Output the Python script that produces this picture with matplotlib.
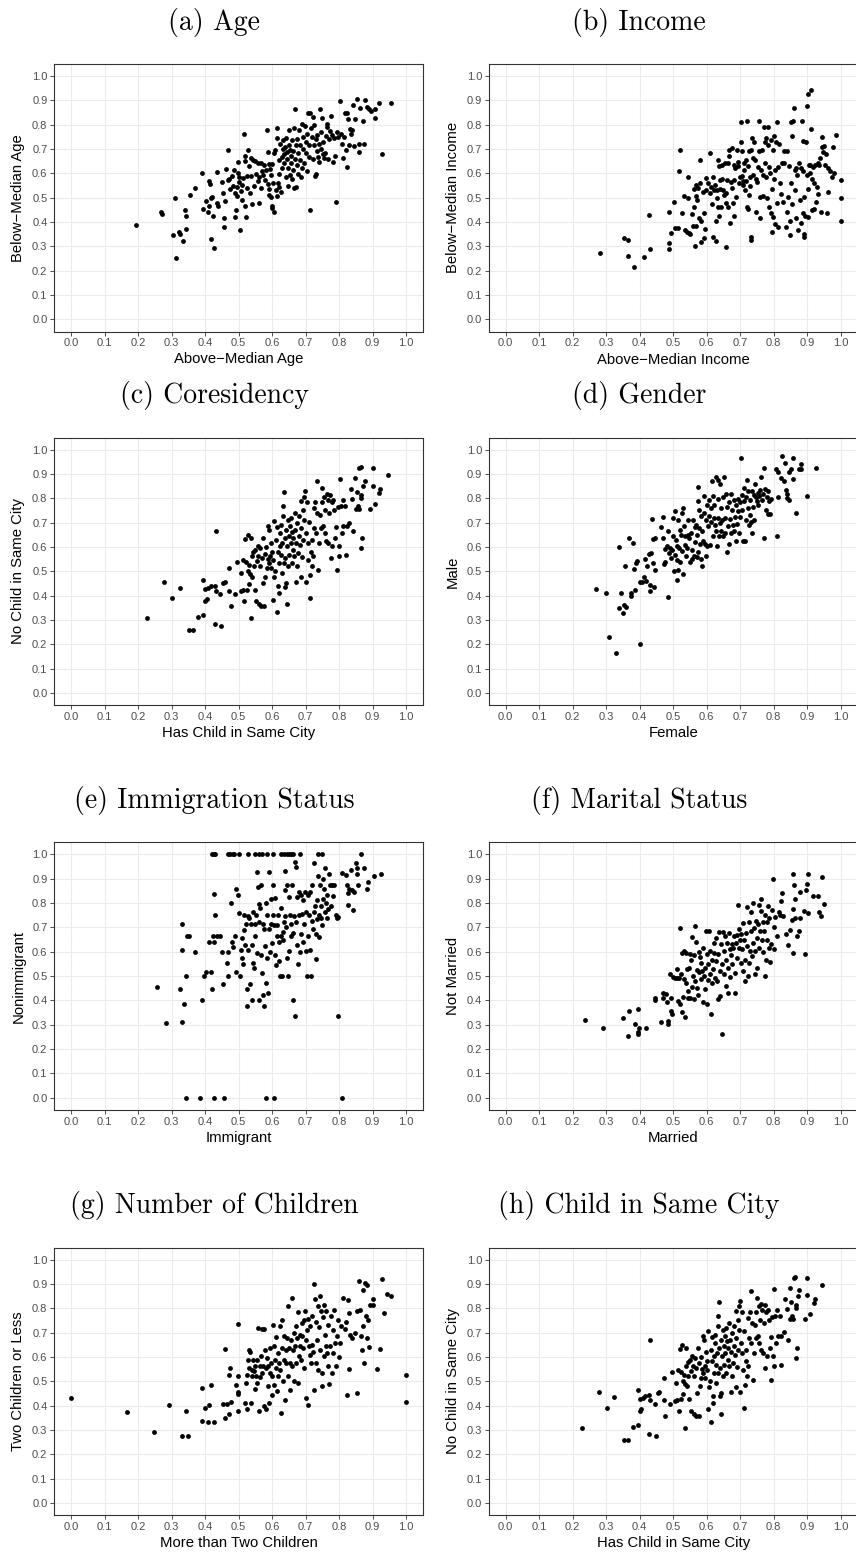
import matplotlib
matplotlib.use("Agg")
import matplotlib.pyplot as plt
import numpy as np

plt.rcParams["font.family"] = ["Liberation Sans", "DejaVu Sans"]

# ---------------- data ----------------
age_pts = [
    (0.194, 0.386), (0.27, 0.442), (0.272, 0.435), (0.305, 0.347), (0.31, 0.50), (0.314, 0.251),
    (0.322, 0.36), (0.326, 0.351), (0.333, 0.322), (0.34, 0.448), (0.343, 0.425), (0.343, 0.37),
    (0.356, 0.511), (0.371, 0.541), (0.39, 0.601), (0.393, 0.455), (0.404, 0.488), (0.409, 0.44),
    (0.411, 0.568), (0.413, 0.466), (0.415, 0.555), (0.418, 0.499), (0.419, 0.33), (0.422, 0.504),
    (0.423, 0.426), (0.428, 0.292), (0.437, 0.604), (0.435, 0.477), (0.439, 0.468), (0.452, 0.564),
    (0.456, 0.418), (0.457, 0.379), (0.46, 0.488), (0.455, 0.52), (0.464, 0.619), (0.468, 0.696),
    (0.468, 0.573), (0.472, 0.579), (0.475, 0.538), (0.48, 0.588), (0.485, 0.548), (0.487, 0.616),
    (0.49, 0.518), (0.49, 0.422), (0.493, 0.448), (0.495, 0.508), (0.499, 0.647), (0.499, 0.603),
    (0.501, 0.586), (0.497, 0.545), (0.502, 0.563), (0.505, 0.367), (0.507, 0.529), (0.51, 0.553),
    (0.51, 0.49), (0.514, 0.58), (0.515, 0.762), (0.519, 0.651), (0.519, 0.671), (0.52, 0.468),
    (0.522, 0.421), (0.524, 0.541), (0.526, 0.589), (0.528, 0.696), (0.53, 0.629), (0.533, 0.521),
    (0.536, 0.59), (0.537, 0.662), (0.539, 0.474), (0.544, 0.656), (0.546, 0.548), (0.55, 0.651),
    (0.551, 0.596), (0.557, 0.644), (0.559, 0.568), (0.561, 0.477), (0.562, 0.585), (0.566, 0.641),
    (0.568, 0.542), (0.571, 0.612), (0.573, 0.593), (0.577, 0.636), (0.579, 0.573), (0.581, 0.614),
    (0.584, 0.777), (0.587, 0.558), (0.589, 0.689), (0.59, 0.638), (0.591, 0.51), (0.592, 0.534),
    (0.594, 0.618), (0.596, 0.592), (0.597, 0.504), (0.599, 0.467), (0.6, 0.459), (0.601, 0.638),
    (0.604, 0.562), (0.606, 0.441), (0.607, 0.685), (0.609, 0.696), (0.612, 0.532), (0.614, 0.507),
    (0.616, 0.745), (0.616, 0.785), (0.618, 0.562), (0.62, 0.597), (0.621, 0.545), (0.622, 0.655),
    (0.624, 0.721), (0.626, 0.525), (0.629, 0.668), (0.63, 0.621), (0.632, 0.701), (0.634, 0.737),
    (0.635, 0.679), (0.637, 0.642), (0.639, 0.708), (0.641, 0.586), (0.642, 0.745), (0.644, 0.688),
    (0.646, 0.658), (0.647, 0.621), (0.649, 0.547), (0.65, 0.716), (0.652, 0.777), (0.653, 0.696),
    (0.654, 0.595), (0.656, 0.671), (0.657, 0.641), (0.659, 0.737), (0.66, 0.579), (0.662, 0.693),
    (0.664, 0.616), (0.665, 0.54), (0.666, 0.785), (0.668, 0.66), (0.67, 0.863), (0.671, 0.716),
    (0.673, 0.545), (0.674, 0.634), (0.676, 0.74), (0.677, 0.684), (0.679, 0.597), (0.682, 0.778),
    (0.684, 0.655), (0.685, 0.716), (0.687, 0.586), (0.689, 0.803), (0.691, 0.621), (0.692, 0.751),
    (0.694, 0.701), (0.696, 0.644), (0.698, 0.795), (0.7, 0.73), (0.702, 0.685), (0.703, 0.608),
    (0.705, 0.764), (0.707, 0.847), (0.709, 0.668), (0.711, 0.718), (0.713, 0.449), (0.714, 0.849),
    (0.716, 0.786), (0.718, 0.751), (0.721, 0.66), (0.723, 0.833), (0.724, 0.718), (0.726, 0.799),
    (0.728, 0.589), (0.73, 0.74), (0.731, 0.597), (0.733, 0.693), (0.735, 0.758), (0.737, 0.668),
    (0.739, 0.721), (0.741, 0.648), (0.744, 0.863), (0.745, 0.701), (0.747, 0.77), (0.749, 0.827),
    (0.751, 0.679), (0.753, 0.73), (0.755, 0.662), (0.758, 0.685), (0.761, 0.753), (0.763, 0.789),
    (0.765, 0.803), (0.768, 0.66), (0.771, 0.74), (0.773, 0.775), (0.776, 0.836), (0.779, 0.756),
    (0.783, 0.647), (0.785, 0.744), (0.788, 0.671), (0.791, 0.484), (0.793, 0.77), (0.796, 0.748),
    (0.803, 0.899), (0.805, 0.762), (0.809, 0.723), (0.811, 0.662), (0.815, 0.748), (0.819, 0.847),
    (0.821, 0.696), (0.823, 0.627), (0.825, 0.847), (0.827, 0.825), (0.829, 0.716), (0.833, 0.781),
    (0.835, 0.764), (0.839, 0.778), (0.841, 0.882), (0.845, 0.712), (0.849, 0.822), (0.853, 0.907),
    (0.859, 0.721), (0.861, 0.689), (0.863, 0.871), (0.871, 0.816), (0.875, 0.723), (0.879, 0.901),
    (0.883, 0.874), (0.889, 0.866), (0.897, 0.858), (0.908, 0.866), (0.908, 0.826), (0.919, 0.89),
    (0.927, 0.679), (0.954, 0.89),
]

income_pts = [
    (0.282, 0.271), (0.353, 0.336), (0.366, 0.326), (0.366, 0.259), (0.384, 0.215), (0.414, 0.255),
    (0.427, 0.43), (0.432, 0.289), (0.486, 0.312), (0.486, 0.288), (0.488, 0.44), (0.492, 0.356),
    (0.501, 0.481), (0.505, 0.375), (0.515, 0.375), (0.516, 0.612), (0.52, 0.695), (0.525, 0.438),
    (0.532, 0.507), (0.535, 0.367), (0.54, 0.36), (0.543, 0.5), (0.545, 0.585), (0.547, 0.356),
    (0.551, 0.351), (0.557, 0.434), (0.559, 0.384), (0.561, 0.534), (0.563, 0.463), (0.565, 0.301),
    (0.567, 0.382), (0.568, 0.507), (0.569, 0.552), (0.571, 0.49), (0.575, 0.542), (0.577, 0.415),
    (0.579, 0.656), (0.581, 0.559), (0.583, 0.405), (0.584, 0.319), (0.588, 0.522), (0.591, 0.333),
    (0.592, 0.436), (0.594, 0.37), (0.597, 0.582), (0.599, 0.532), (0.605, 0.559), (0.61, 0.518),
    (0.611, 0.685), (0.613, 0.545), (0.615, 0.474), (0.618, 0.584), (0.62, 0.34), (0.622, 0.532),
    (0.625, 0.552), (0.627, 0.322), (0.628, 0.405), (0.63, 0.497), (0.632, 0.532), (0.633, 0.46),
    (0.635, 0.655), (0.636, 0.63), (0.637, 0.426), (0.64, 0.573), (0.641, 0.534), (0.643, 0.46),
    (0.645, 0.579), (0.647, 0.634), (0.65, 0.532), (0.652, 0.511), (0.654, 0.644), (0.657, 0.479),
    (0.658, 0.521), (0.659, 0.296), (0.66, 0.575), (0.663, 0.641), (0.665, 0.463), (0.667, 0.696),
    (0.668, 0.671), (0.671, 0.395), (0.673, 0.566), (0.675, 0.703), (0.677, 0.542), (0.678, 0.477),
    (0.68, 0.425), (0.681, 0.634), (0.682, 0.575), (0.684, 0.621), (0.687, 0.503), (0.689, 0.696),
    (0.692, 0.648), (0.694, 0.63), (0.697, 0.559), (0.7, 0.586), (0.701, 0.812), (0.702, 0.729),
    (0.704, 0.693), (0.705, 0.589), (0.707, 0.57), (0.709, 0.552), (0.711, 0.614), (0.712, 0.641),
    (0.714, 0.532), (0.716, 0.655), (0.718, 0.567), (0.719, 0.816), (0.72, 0.463), (0.722, 0.63),
    (0.724, 0.452), (0.725, 0.693), (0.726, 0.511), (0.728, 0.586), (0.729, 0.548), (0.731, 0.337),
    (0.733, 0.326), (0.733, 0.696), (0.735, 0.744), (0.737, 0.593), (0.739, 0.662), (0.742, 0.73),
    (0.744, 0.655), (0.746, 0.579), (0.748, 0.442), (0.75, 0.566), (0.753, 0.625), (0.756, 0.816),
    (0.757, 0.693), (0.758, 0.415), (0.76, 0.503), (0.762, 0.614), (0.764, 0.696), (0.767, 0.593),
    (0.769, 0.507), (0.771, 0.792), (0.773, 0.73), (0.774, 0.641), (0.776, 0.747), (0.778, 0.586),
    (0.78, 0.497), (0.782, 0.718), (0.784, 0.789), (0.785, 0.627), (0.786, 0.463), (0.789, 0.6),
    (0.791, 0.736), (0.792, 0.436), (0.794, 0.36), (0.795, 0.534), (0.797, 0.696), (0.798, 0.419),
    (0.8, 0.578), (0.802, 0.753), (0.804, 0.614), (0.805, 0.392), (0.807, 0.73), (0.809, 0.479),
    (0.811, 0.812), (0.813, 0.627), (0.814, 0.381), (0.816, 0.721), (0.818, 0.559), (0.821, 0.514),
    (0.824, 0.641), (0.827, 0.484), (0.83, 0.693), (0.832, 0.644), (0.836, 0.381), (0.839, 0.442),
    (0.841, 0.693), (0.843, 0.503), (0.846, 0.63), (0.848, 0.405), (0.85, 0.347), (0.852, 0.812),
    (0.853, 0.562), (0.854, 0.474), (0.856, 0.755), (0.859, 0.816), (0.861, 0.871), (0.863, 0.532),
    (0.864, 0.616), (0.866, 0.415), (0.868, 0.621), (0.871, 0.593), (0.873, 0.367), (0.876, 0.641),
    (0.878, 0.49), (0.88, 0.621), (0.882, 0.397), (0.884, 0.815), (0.886, 0.608), (0.887, 0.436),
    (0.888, 0.733), (0.889, 0.349), (0.889, 0.337), (0.89, 0.503), (0.893, 0.425), (0.896, 0.73),
    (0.898, 0.878), (0.899, 0.593), (0.901, 0.538), (0.902, 0.925), (0.903, 0.422), (0.905, 0.634),
    (0.907, 0.603), (0.909, 0.634), (0.911, 0.784), (0.912, 0.945), (0.913, 0.579), (0.915, 0.449),
    (0.917, 0.627), (0.919, 0.562), (0.921, 0.452), (0.923, 0.634), (0.926, 0.484), (0.929, 0.545),
    (0.931, 0.641), (0.933, 0.516), (0.935, 0.634), (0.938, 0.662), (0.94, 0.442), (0.943, 0.748),
    (0.945, 0.708), (0.948, 0.689), (0.95, 0.712), (0.953, 0.634), (0.956, 0.679), (0.958, 0.436),
    (0.961, 0.621), (0.963, 0.522), (0.968, 0.608), (0.973, 0.584), (0.977, 0.707), (0.981, 0.603),
    (0.985, 0.759), (1.0, 0.573), (1.0, 0.499), (1.0, 0.405),
]

city_pts = [
    (0.227, 0.307), (0.279, 0.456), (0.301, 0.389), (0.324, 0.434), (0.353, 0.26), (0.365, 0.258),
    (0.379, 0.312), (0.394, 0.319), (0.395, 0.464), (0.4, 0.429), (0.4, 0.379), (0.405, 0.386),
    (0.41, 0.432), (0.417, 0.441), (0.429, 0.285), (0.429, 0.442), (0.432, 0.421), (0.432, 0.668),
    (0.446, 0.408), (0.448, 0.275), (0.455, 0.452), (0.459, 0.455), (0.473, 0.515), (0.473, 0.421),
    (0.477, 0.358), (0.491, 0.407), (0.495, 0.537), (0.506, 0.419), (0.508, 0.493), (0.512, 0.422),
    (0.514, 0.548), (0.516, 0.377), (0.519, 0.633), (0.522, 0.537), (0.524, 0.425), (0.527, 0.648),
    (0.529, 0.5), (0.53, 0.449), (0.532, 0.527), (0.534, 0.49), (0.536, 0.307), (0.538, 0.637),
    (0.539, 0.564), (0.541, 0.479), (0.543, 0.578), (0.545, 0.521), (0.548, 0.425), (0.55, 0.589),
    (0.552, 0.377), (0.554, 0.541), (0.557, 0.603), (0.559, 0.562), (0.561, 0.367), (0.563, 0.521),
    (0.565, 0.596), (0.567, 0.356), (0.569, 0.555), (0.572, 0.452), (0.574, 0.637), (0.576, 0.356),
    (0.578, 0.573), (0.58, 0.479), (0.582, 0.6), (0.584, 0.514), (0.587, 0.552), (0.589, 0.685),
    (0.59, 0.534), (0.592, 0.671), (0.594, 0.564), (0.596, 0.514), (0.598, 0.619), (0.6, 0.582),
    (0.602, 0.548), (0.604, 0.384), (0.605, 0.708), (0.607, 0.477), (0.609, 0.5), (0.612, 0.63),
    (0.614, 0.332), (0.615, 0.682), (0.617, 0.582), (0.619, 0.441), (0.62, 0.411), (0.621, 0.534),
    (0.623, 0.603), (0.624, 0.658), (0.626, 0.692), (0.627, 0.568), (0.629, 0.493), (0.631, 0.616),
    (0.633, 0.726), (0.634, 0.77), (0.635, 0.534), (0.636, 0.825), (0.638, 0.637), (0.639, 0.438),
    (0.64, 0.555), (0.642, 0.671), (0.643, 0.452), (0.644, 0.367), (0.646, 0.603), (0.648, 0.712),
    (0.649, 0.521), (0.651, 0.644), (0.652, 0.568), (0.654, 0.685), (0.656, 0.616), (0.658, 0.719),
    (0.659, 0.534), (0.661, 0.664), (0.663, 0.589), (0.664, 0.637), (0.666, 0.562), (0.668, 0.74),
    (0.67, 0.671), (0.672, 0.455), (0.673, 0.619), (0.675, 0.699), (0.676, 0.521), (0.678, 0.575),
    (0.68, 0.647), (0.682, 0.726), (0.684, 0.608), (0.686, 0.477), (0.687, 0.678), (0.688, 0.788),
    (0.69, 0.559), (0.692, 0.753), (0.693, 0.63), (0.695, 0.712), (0.697, 0.808), (0.698, 0.829),
    (0.7, 0.455), (0.702, 0.658), (0.704, 0.784), (0.706, 0.616), (0.708, 0.548), (0.71, 0.705),
    (0.712, 0.39), (0.714, 0.486), (0.716, 0.582), (0.718, 0.63), (0.72, 0.521), (0.722, 0.562),
    (0.724, 0.76), (0.726, 0.678), (0.728, 0.784), (0.731, 0.658), (0.733, 0.871), (0.735, 0.74),
    (0.738, 0.504), (0.74, 0.616), (0.743, 0.733), (0.746, 0.678), (0.748, 0.784), (0.75, 0.842),
    (0.753, 0.688), (0.755, 0.808), (0.757, 0.658), (0.759, 0.753), (0.761, 0.627), (0.763, 0.819),
    (0.766, 0.795), (0.768, 0.616), (0.77, 0.74), (0.773, 0.815), (0.775, 0.555), (0.778, 0.784),
    (0.78, 0.605), (0.783, 0.795), (0.786, 0.753), (0.788, 0.637), (0.791, 0.682), (0.793, 0.504),
    (0.796, 0.764), (0.799, 0.603), (0.801, 0.562), (0.802, 0.879), (0.805, 0.77), (0.808, 0.658),
    (0.811, 0.792), (0.813, 0.685), (0.818, 0.77), (0.821, 0.568), (0.823, 0.688), (0.831, 0.701),
    (0.835, 0.838), (0.84, 0.797), (0.843, 0.668), (0.848, 0.884), (0.85, 0.756), (0.853, 0.825),
    (0.856, 0.77), (0.859, 0.756), (0.861, 0.925), (0.865, 0.929), (0.866, 0.815), (0.867, 0.801),
    (0.867, 0.596), (0.869, 0.637), (0.873, 0.852), (0.877, 0.874), (0.893, 0.756), (0.9, 0.925),
    (0.9, 0.853), (0.907, 0.777), (0.92, 0.822), (0.922, 0.838), (0.945, 0.896),
]

gender_pts = [
    (0.271, 0.427), (0.3, 0.411), (0.309, 0.229), (0.33, 0.164), (0.337, 0.599), (0.337, 0.348),
    (0.343, 0.41), (0.351, 0.329), (0.353, 0.362), (0.358, 0.353), (0.356, 0.523), (0.368, 0.636),
    (0.373, 0.411), (0.374, 0.397), (0.38, 0.616), (0.383, 0.511), (0.386, 0.422), (0.388, 0.534),
    (0.393, 0.541), (0.4, 0.203), (0.402, 0.456), (0.406, 0.455), (0.413, 0.479), (0.417, 0.551),
    (0.42, 0.459), (0.423, 0.523), (0.427, 0.573), (0.43, 0.445), (0.432, 0.418), (0.435, 0.575),
    (0.437, 0.716), (0.439, 0.534), (0.441, 0.634), (0.443, 0.438), (0.445, 0.637), (0.447, 0.504),
    (0.463, 0.682), (0.469, 0.723), (0.471, 0.637), (0.473, 0.532), (0.475, 0.592), (0.477, 0.537),
    (0.481, 0.605), (0.483, 0.393), (0.485, 0.668), (0.487, 0.575), (0.49, 0.596), (0.493, 0.555),
    (0.495, 0.589), (0.498, 0.644), (0.5, 0.719), (0.502, 0.5), (0.504, 0.747), (0.506, 0.568),
    (0.508, 0.63), (0.51, 0.463), (0.511, 0.548), (0.512, 0.603), (0.514, 0.712), (0.515, 0.504),
    (0.517, 0.596), (0.519, 0.671), (0.521, 0.537), (0.523, 0.651), (0.525, 0.742), (0.526, 0.586),
    (0.528, 0.49), (0.53, 0.76), (0.532, 0.685), (0.534, 0.61), (0.536, 0.644), (0.538, 0.562),
    (0.541, 0.596), (0.543, 0.651), (0.545, 0.712), (0.548, 0.637), (0.55, 0.537), (0.552, 0.658),
    (0.555, 0.589), (0.557, 0.551), (0.56, 0.712), (0.562, 0.562), (0.564, 0.682), (0.566, 0.623),
    (0.568, 0.689), (0.57, 0.559), (0.571, 0.651), (0.573, 0.849), (0.574, 0.788), (0.575, 0.582),
    (0.577, 0.753), (0.578, 0.678), (0.58, 0.614), (0.582, 0.551), (0.584, 0.726), (0.585, 0.521),
    (0.587, 0.668), (0.589, 0.627), (0.591, 0.811), (0.593, 0.74), (0.595, 0.614), (0.597, 0.71),
    (0.598, 0.564), (0.6, 0.774), (0.602, 0.605), (0.604, 0.685), (0.606, 0.795), (0.608, 0.726),
    (0.61, 0.61), (0.612, 0.76), (0.614, 0.705), (0.616, 0.87), (0.618, 0.644), (0.62, 0.811),
    (0.622, 0.719), (0.623, 0.774), (0.625, 0.689), (0.627, 0.668), (0.629, 0.888), (0.631, 0.605),
    (0.633, 0.719), (0.634, 0.877), (0.635, 0.797), (0.637, 0.644), (0.639, 0.701), (0.641, 0.86),
    (0.643, 0.76), (0.644, 0.668), (0.646, 0.712), (0.648, 0.805), (0.65, 0.647), (0.652, 0.888),
    (0.654, 0.719), (0.656, 0.658), (0.658, 0.819), (0.66, 0.764), (0.662, 0.582), (0.664, 0.685),
    (0.666, 0.784), (0.668, 0.614), (0.67, 0.715), (0.672, 0.819), (0.674, 0.658), (0.676, 0.753),
    (0.678, 0.692), (0.68, 0.795), (0.682, 0.668), (0.684, 0.723), (0.686, 0.774), (0.688, 0.627),
    (0.69, 0.696), (0.692, 0.797), (0.694, 0.747), (0.696, 0.658), (0.698, 0.784), (0.7, 0.723),
    (0.702, 0.966), (0.704, 0.753), (0.706, 0.815), (0.708, 0.627), (0.71, 0.788), (0.712, 0.842),
    (0.714, 0.627), (0.716, 0.712), (0.718, 0.808), (0.72, 0.877), (0.722, 0.76), (0.724, 0.829),
    (0.726, 0.689), (0.728, 0.733), (0.73, 0.795), (0.732, 0.705), (0.734, 0.829), (0.736, 0.658),
    (0.738, 0.764), (0.74, 0.815), (0.742, 0.712), (0.744, 0.86), (0.747, 0.808), (0.749, 0.788),
    (0.752, 0.822), (0.754, 0.774), (0.757, 0.811), (0.76, 0.836), (0.762, 0.888), (0.764, 0.795),
    (0.767, 0.819), (0.77, 0.637), (0.772, 0.925), (0.774, 0.838), (0.776, 0.753), (0.779, 0.808),
    (0.782, 0.737), (0.784, 0.829), (0.787, 0.788), (0.789, 0.737), (0.792, 0.797), (0.806, 0.921),
    (0.809, 0.644), (0.812, 0.911), (0.814, 0.808), (0.822, 0.884), (0.824, 0.973), (0.832, 0.874),
    (0.834, 0.945), (0.837, 0.833), (0.839, 0.801), (0.84, 0.819), (0.845, 0.792), (0.847, 0.907),
    (0.852, 0.921), (0.857, 0.966), (0.858, 0.879), (0.866, 0.742), (0.876, 0.921), (0.881, 0.942),
    (0.881, 0.921), (0.899, 0.811), (0.925, 0.925),
]

immig_pts = [
    (0.422, 1.0), (0.426, 1.0), (0.43, 1.0), (0.468, 1.0), (0.475, 1.0), (0.483, 1.0), (0.488, 1.0),
    (0.502, 1.0), (0.529, 1.0), (0.549, 1.0), (0.562, 1.0), (0.569, 1.0), (0.584, 1.0), (0.604, 1.0),
    (0.627, 1.0), (0.637, 1.0), (0.646, 1.0), (0.652, 1.0), (0.657, 1.0), (0.662, 1.0), (0.685, 1.0),
    (0.736, 1.0), (0.75, 1.0), (0.865, 1.0),
    (0.342, 0.0), (0.386, 0.0), (0.427, 0.0), (0.456, 0.0), (0.581, 0.0), (0.606, 0.0), (0.809, 0.0),
    (0.257, 0.454), (0.285, 0.308), (0.325, 0.445), (0.33, 0.607), (0.332, 0.713), (0.332, 0.31),
    (0.338, 0.384), (0.342, 0.5), (0.347, 0.666), (0.353, 0.666), (0.371, 0.599), (0.391, 0.4),
    (0.397, 0.5), (0.403, 0.517), (0.412, 0.642), (0.417, 0.517), (0.42, 0.445), (0.423, 0.666),
    (0.426, 0.642), (0.428, 0.839), (0.43, 0.75), (0.435, 0.666), (0.444, 0.666), (0.451, 0.599),
    (0.454, 0.468), (0.465, 0.555), (0.469, 0.599), (0.47, 0.5), (0.477, 0.799), (0.48, 0.639),
    (0.485, 0.618), (0.49, 0.666), (0.492, 0.858), (0.494, 0.516), (0.498, 0.833), (0.502, 0.761),
    (0.505, 0.5), (0.507, 0.607), (0.509, 0.573), (0.511, 0.655), (0.513, 0.551), (0.515, 0.689),
    (0.517, 0.751), (0.52, 0.628), (0.522, 0.713), (0.524, 0.375), (0.525, 0.447), (0.527, 0.607),
    (0.529, 0.748), (0.532, 0.737), (0.534, 0.466), (0.536, 0.713), (0.539, 0.628), (0.541, 0.4),
    (0.543, 0.553), (0.544, 0.762), (0.546, 0.535), (0.548, 0.713), (0.55, 0.666), (0.552, 0.751),
    (0.554, 0.594), (0.556, 0.927), (0.558, 0.865), (0.56, 0.798), (0.561, 0.4), (0.562, 0.724),
    (0.564, 0.781), (0.566, 0.874), (0.568, 0.587), (0.57, 0.512), (0.572, 0.423), (0.574, 0.713),
    (0.576, 0.375), (0.577, 0.694), (0.579, 0.624), (0.581, 0.471), (0.582, 0.799), (0.584, 0.576),
    (0.586, 0.751), (0.588, 0.43), (0.59, 0.929), (0.592, 0.694), (0.594, 0.598), (0.596, 0.818),
    (0.598, 0.713), (0.6, 0.635), (0.602, 0.751), (0.604, 0.874), (0.606, 0.71), (0.608, 0.819),
    (0.61, 0.587), (0.612, 0.546), (0.614, 0.71), (0.616, 0.666), (0.618, 0.751), (0.62, 0.56),
    (0.622, 0.639), (0.624, 0.5), (0.626, 0.666), (0.628, 0.778), (0.63, 0.5), (0.632, 0.683),
    (0.634, 0.647), (0.636, 0.724), (0.638, 0.748), (0.639, 0.934), (0.64, 0.852), (0.642, 0.701),
    (0.644, 0.875), (0.646, 0.573), (0.648, 0.5), (0.65, 0.825), (0.652, 0.601), (0.654, 0.75),
    (0.656, 0.666), (0.658, 0.713), (0.66, 0.875), (0.662, 0.401), (0.664, 0.677), (0.666, 0.748),
    (0.668, 0.967), (0.67, 0.334), (0.672, 0.724), (0.673, 0.947), (0.674, 0.628), (0.676, 0.826),
    (0.678, 0.549), (0.68, 0.844), (0.682, 0.751), (0.684, 0.598), (0.686, 0.674), (0.688, 0.833),
    (0.69, 0.755), (0.692, 0.639), (0.694, 0.811), (0.696, 0.713), (0.698, 0.844), (0.7, 0.601),
    (0.702, 0.762), (0.704, 0.5), (0.706, 0.833), (0.708, 0.666), (0.71, 0.751), (0.712, 0.607),
    (0.714, 0.844), (0.716, 0.5), (0.718, 0.874), (0.72, 0.726), (0.722, 0.694), (0.724, 0.762),
    (0.726, 0.963), (0.728, 0.789), (0.73, 0.674), (0.731, 0.571), (0.733, 0.735), (0.735, 0.814),
    (0.737, 0.912), (0.739, 0.661), (0.741, 0.749), (0.743, 0.874), (0.745, 0.789), (0.747, 0.737),
    (0.749, 0.71), (0.751, 0.817), (0.753, 0.901), (0.755, 0.86), (0.757, 0.762), (0.759, 0.943),
    (0.761, 0.799), (0.763, 0.737), (0.765, 0.833), (0.768, 0.776), (0.771, 0.918), (0.773, 0.874),
    (0.776, 0.789), (0.779, 0.874), (0.783, 0.831), (0.786, 0.874), (0.791, 0.75), (0.795, 0.737),
    (0.798, 0.744), (0.797, 0.334), (0.808, 0.922), (0.821, 0.915), (0.823, 0.874), (0.826, 0.792),
    (0.828, 0.84), (0.831, 0.86), (0.835, 0.936), (0.838, 0.852), (0.841, 0.772), (0.845, 0.844),
    (0.851, 0.963), (0.853, 0.918), (0.855, 0.945), (0.857, 0.874), (0.876, 0.943), (0.884, 0.86),
    (0.888, 0.888), (0.904, 0.912), (0.924, 0.919),
]

marital_pts = [
    (0.238, 0.318), (0.289, 0.288), (0.351, 0.329), (0.366, 0.255), (0.368, 0.356), (0.386, 0.301),
    (0.395, 0.364), (0.395, 0.271), (0.397, 0.288), (0.395, 0.263), (0.42, 0.288), (0.445, 0.411),
    (0.445, 0.401), (0.465, 0.311), (0.471, 0.432), (0.471, 0.408), (0.479, 0.425), (0.481, 0.393),
    (0.483, 0.301), (0.485, 0.315), (0.491, 0.51), (0.492, 0.411), (0.493, 0.356), (0.495, 0.345),
    (0.5, 0.496), (0.505, 0.49), (0.51, 0.493), (0.512, 0.527), (0.515, 0.397), (0.517, 0.49),
    (0.519, 0.696), (0.52, 0.386), (0.523, 0.507), (0.525, 0.596), (0.527, 0.353), (0.529, 0.414),
    (0.531, 0.603), (0.533, 0.486), (0.535, 0.332), (0.537, 0.473), (0.539, 0.596), (0.541, 0.527),
    (0.543, 0.411), (0.545, 0.438), (0.547, 0.534), (0.549, 0.589), (0.551, 0.408), (0.553, 0.564),
    (0.555, 0.455), (0.557, 0.66), (0.559, 0.5), (0.561, 0.404), (0.563, 0.586), (0.565, 0.705),
    (0.566, 0.479), (0.568, 0.641), (0.57, 0.523), (0.572, 0.452), (0.574, 0.422), (0.576, 0.6),
    (0.578, 0.518), (0.58, 0.578), (0.582, 0.486), (0.584, 0.555), (0.586, 0.521), (0.588, 0.616),
    (0.59, 0.395), (0.592, 0.5), (0.594, 0.534), (0.596, 0.445), (0.598, 0.685), (0.6, 0.589),
    (0.601, 0.384), (0.603, 0.482), (0.605, 0.548), (0.607, 0.685), (0.609, 0.507), (0.611, 0.603),
    (0.613, 0.342), (0.615, 0.473), (0.617, 0.564), (0.619, 0.527), (0.621, 0.637), (0.623, 0.596),
    (0.625, 0.493), (0.627, 0.562), (0.629, 0.658), (0.631, 0.479), (0.633, 0.404), (0.635, 0.589),
    (0.637, 0.682), (0.639, 0.521), (0.641, 0.418), (0.643, 0.63), (0.645, 0.548), (0.647, 0.26),
    (0.649, 0.682), (0.651, 0.507), (0.653, 0.603), (0.655, 0.664), (0.657, 0.459), (0.659, 0.564),
    (0.661, 0.637), (0.663, 0.432), (0.665, 0.534), (0.667, 0.678), (0.669, 0.61), (0.671, 0.496),
    (0.673, 0.586), (0.675, 0.63), (0.677, 0.55), (0.679, 0.616), (0.681, 0.664), (0.683, 0.514),
    (0.685, 0.432), (0.687, 0.637), (0.689, 0.575), (0.691, 0.668), (0.693, 0.792), (0.695, 0.616),
    (0.697, 0.692), (0.699, 0.647), (0.701, 0.555), (0.703, 0.674), (0.705, 0.61), (0.707, 0.719),
    (0.709, 0.521), (0.711, 0.647), (0.713, 0.479), (0.715, 0.568), (0.717, 0.678), (0.719, 0.784),
    (0.721, 0.625), (0.723, 0.5), (0.725, 0.723), (0.727, 0.555), (0.729, 0.603), (0.731, 0.764),
    (0.733, 0.685), (0.735, 0.582), (0.737, 0.801), (0.739, 0.637), (0.741, 0.699), (0.743, 0.507),
    (0.745, 0.603), (0.747, 0.726), (0.749, 0.658), (0.751, 0.534), (0.753, 0.712), (0.755, 0.616),
    (0.757, 0.792), (0.759, 0.685), (0.761, 0.767), (0.763, 0.815), (0.765, 0.647), (0.767, 0.723),
    (0.769, 0.6), (0.771, 0.685), (0.773, 0.5), (0.775, 0.753), (0.777, 0.564), (0.779, 0.647),
    (0.781, 0.723), (0.783, 0.788), (0.785, 0.616), (0.787, 0.74), (0.79, 0.559), (0.793, 0.63),
    (0.795, 0.77), (0.798, 0.9), (0.8, 0.701), (0.802, 0.61), (0.805, 0.742), (0.81, 0.664),
    (0.815, 0.764), (0.82, 0.751), (0.823, 0.808), (0.825, 0.842), (0.827, 0.747), (0.838, 0.671),
    (0.842, 0.626), (0.848, 0.689), (0.855, 0.729), (0.858, 0.777), (0.858, 0.918), (0.859, 0.596),
    (0.864, 0.815), (0.862, 0.874), (0.864, 0.74), (0.869, 0.664), (0.876, 0.685), (0.879, 0.847),
    (0.879, 0.74), (0.89, 0.767), (0.893, 0.589), (0.895, 0.852), (0.9, 0.879), (0.903, 0.918),
    (0.903, 0.758), (0.918, 0.829), (0.933, 0.829), (0.936, 0.764), (0.941, 0.747), (0.943, 0.907),
    (0.949, 0.795),
]

children_pts = [
    (0.0, 0.432), (0.166, 0.373), (0.249, 0.292), (0.292, 0.401), (0.332, 0.274), (0.343, 0.379),
    (0.35, 0.274), (0.391, 0.473), (0.392, 0.336), (0.4, 0.39), (0.41, 0.333), (0.413, 0.401),
    (0.419, 0.484), (0.428, 0.333), (0.455, 0.408), (0.459, 0.632), (0.461, 0.348), (0.467, 0.408),
    (0.471, 0.367), (0.473, 0.527), (0.475, 0.553), (0.479, 0.414), (0.493, 0.484), (0.499, 0.521),
    (0.499, 0.455), (0.499, 0.449), (0.499, 0.379), (0.499, 0.736), (0.52, 0.411), (0.522, 0.493),
    (0.524, 0.384), (0.526, 0.527), (0.528, 0.586), (0.53, 0.553), (0.532, 0.627), (0.535, 0.621),
    (0.537, 0.411), (0.539, 0.521), (0.541, 0.548), (0.544, 0.589), (0.546, 0.541), (0.549, 0.468),
    (0.55, 0.562), (0.552, 0.521), (0.554, 0.589), (0.556, 0.493), (0.559, 0.719), (0.561, 0.377),
    (0.563, 0.562), (0.565, 0.516), (0.567, 0.603), (0.569, 0.715), (0.571, 0.532), (0.573, 0.562),
    (0.575, 0.715), (0.577, 0.397), (0.579, 0.629), (0.581, 0.555), (0.583, 0.384), (0.585, 0.596),
    (0.587, 0.479), (0.589, 0.562), (0.591, 0.411), (0.593, 0.534), (0.595, 0.636), (0.597, 0.575),
    (0.599, 0.445), (0.601, 0.521), (0.603, 0.733), (0.605, 0.644), (0.607, 0.486), (0.609, 0.589),
    (0.611, 0.682), (0.613, 0.555), (0.615, 0.46), (0.617, 0.616), (0.619, 0.521), (0.621, 0.575),
    (0.623, 0.726), (0.625, 0.548), (0.627, 0.37), (0.629, 0.636), (0.631, 0.753), (0.633, 0.5),
    (0.635, 0.589), (0.637, 0.685), (0.639, 0.422), (0.641, 0.63), (0.643, 0.575), (0.645, 0.678),
    (0.647, 0.521), (0.649, 0.808), (0.651, 0.636), (0.653, 0.466), (0.655, 0.575), (0.657, 0.671),
    (0.659, 0.842), (0.661, 0.562), (0.663, 0.627), (0.665, 0.699), (0.667, 0.5), (0.669, 0.644),
    (0.671, 0.575), (0.673, 0.726), (0.675, 0.678), (0.677, 0.784), (0.679, 0.493), (0.681, 0.603),
    (0.683, 0.692), (0.685, 0.644), (0.687, 0.589), (0.689, 0.74), (0.691, 0.685), (0.693, 0.637),
    (0.695, 0.753), (0.697, 0.555), (0.699, 0.788), (0.7, 0.432), (0.702, 0.671), (0.704, 0.712),
    (0.706, 0.404), (0.708, 0.756), (0.71, 0.644), (0.712, 0.608), (0.714, 0.726), (0.716, 0.575),
    (0.718, 0.767), (0.72, 0.648), (0.722, 0.621), (0.724, 0.9), (0.726, 0.466), (0.728, 0.838),
    (0.73, 0.744), (0.732, 0.575), (0.734, 0.671), (0.736, 0.808), (0.738, 0.548), (0.74, 0.723),
    (0.742, 0.849), (0.744, 0.63), (0.746, 0.788), (0.748, 0.534), (0.75, 0.479), (0.752, 0.764),
    (0.754, 0.603), (0.756, 0.815), (0.758, 0.692), (0.76, 0.644), (0.762, 0.788), (0.764, 0.616),
    (0.766, 0.733), (0.768, 0.562), (0.771, 0.49), (0.773, 0.644), (0.776, 0.767), (0.779, 0.534),
    (0.781, 0.712), (0.783, 0.616), (0.786, 0.795), (0.789, 0.658), (0.791, 0.562), (0.793, 0.685),
    (0.796, 0.753), (0.799, 0.6), (0.803, 0.658), (0.807, 0.726), (0.812, 0.842), (0.818, 0.715),
    (0.82, 0.744), (0.823, 0.445), (0.826, 0.836), (0.829, 0.551), (0.831, 0.781), (0.833, 0.692),
    (0.838, 0.678), (0.849, 0.699), (0.853, 0.788), (0.855, 0.452), (0.859, 0.911), (0.863, 0.795),
    (0.867, 0.685), (0.869, 0.63), (0.871, 0.726), (0.873, 0.874), (0.875, 0.577), (0.878, 0.904),
    (0.88, 0.767), (0.883, 0.678), (0.885, 0.897), (0.887, 0.753), (0.889, 0.641), (0.893, 0.815),
    (0.9, 0.84), (0.902, 0.812), (0.912, 0.551), (0.922, 0.633), (0.927, 0.921), (0.934, 0.781),
    (0.942, 0.86), (0.954, 0.849), (1.0, 0.527), (1.0, 0.414),
]

titles = ["(a) Age", "(b) Income", "(c) Coresidency", "(d) Gender",
          "(e) Immigration Status", "(f) Marital Status",
          "(g) Number of Children", "(h) Child in Same City"]
xlabels = ["Above\u2212Median Age", "Above\u2212Median Income", "Has Child in Same City", "Female",
           "Immigrant", "Married", "More than Two Children", "Has Child in Same City"]
ylabels = ["Below\u2212Median Age", "Below\u2212Median Income", "No Child in Same City", "Male",
           "Nonimmigrant", "Not Married", "Two Children or Less", "No Child in Same City"]
datasets = [age_pts, income_pts, city_pts, gender_pts, immig_pts, marital_pts, children_pts, city_pts]
tick_vals = [round(0.1 * i, 1) for i in range(11)]
tick_labels = [f"{v:.1f}" for v in tick_vals]

# ---------------- layout (pixels) ----------------
W, H = 856, 1553
fig = plt.figure(figsize=(W / 100, H / 100), dpi=100)
row_tops = [64.0, 437.7, 842.3, 1247.5]
col_lefts = [54.25, 488.95]
ax_w, ax_h = 368.5, 267.5
title_cx = [214, 639]

for i in range(8):
    r, c = divmod(i, 2)
    left, top = col_lefts[c], row_tops[r]
    ax = fig.add_axes([left / W, 1 - (top + ax_h) / H, ax_w / W, ax_h / H])
    pts = np.array(datasets[i])
    ax.scatter(pts[:, 0], pts[:, 1], s=12, c="black", linewidths=0, zorder=3)
    ax.set_xlim(-0.05, 1.05)
    ax.set_ylim(-0.05, 1.05)
    ax.set_xticks(tick_vals)
    ax.set_xticklabels(tick_labels)
    ax.set_yticks(tick_vals)
    ax.set_yticklabels(tick_labels)
    ax.grid(True, color="#EBEBEB", linewidth=0.8, zorder=0)
    ax.set_axisbelow(True)
    for sp in ax.spines.values():
        sp.set_color("#333333")
        sp.set_linewidth(0.8)
    ax.tick_params(axis="both", length=2.7, width=0.6, color="#333333",
                   labelcolor="#4D4D4D", labelsize=8, pad=2.2)
    ax.set_xlabel(xlabels[i], fontsize=10.7, color="black", va="center")
    ax.xaxis.set_label_coords(0.5, -28.0 / ax_h)
    ax.set_ylabel(ylabels[i], fontsize=10.7, color="black", va="center")
    ax.yaxis.set_label_coords(-0.0976, 0.5)
    # subfigure caption
    fig.text(title_cx[c] / W, 1 - (top - 34.3) / H, titles[i], fontsize=20,
             family="cmr10", ha="center", va="baseline", color="black")

fig.savefig("out.png", dpi=100, facecolor="white")
